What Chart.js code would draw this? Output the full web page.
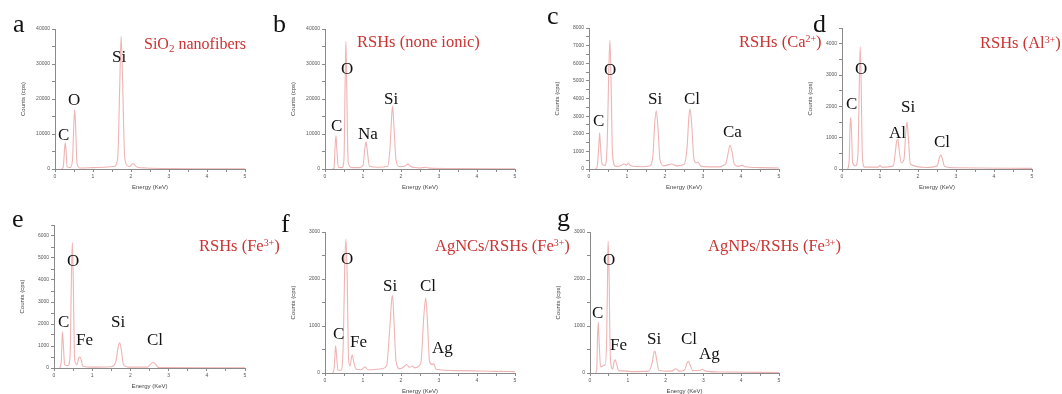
<!DOCTYPE html>
<html>
<head>
<meta charset="utf-8">
<script src="https://cdn.jsdelivr.net/npm/chart.js@4.4.0/dist/chart.umd.min.js"></script>
<style>
  html, body { margin: 0; padding: 0; background: #fff; }
  #stage { position: relative; width: 1062px; height: 394px; overflow: hidden; }
  canvas { position: absolute; }
  .lbl { position: absolute; white-space: nowrap; line-height: 1; font-family: "Liberation Serif", "Times New Roman", serif; }
  .lbl sup, .lbl sub { font-size: 0.6em; line-height: 0; }
  .lbl sup { vertical-align: 0.55em; }
  .lbl sub { vertical-align: -0.25em; font-size: 0.7em; }
</style>
</head>
<body>
<div id="stage"></div>
<script>
// spectra (energy in keV, counts in cps)
const energyA = [0.18, 0.22, 0.25, 0.27, 0.29, 0.32, 0.40, 0.46, 0.50, 0.52, 0.54, 0.58, 0.65, 1.0, 1.3, 1.55, 1.65, 1.70, 1.74, 1.78, 1.83, 1.90, 1.97, 2.03, 2.08, 2.15, 2.4, 3.0, 4.0, 5.0];
const countsA = [0, 800, 5500, 7500, 5500, 600, 400, 2500, 14000, 17000, 13000, 1500, 300, 400, 500, 700, 3000, 22000, 38000, 25000, 4000, 1000, 700, 1500, 1400, 600, 300, 150, 80, 50];

const energyB = [0.2, 0.24, 0.27, 0.29, 0.31, 0.35, 0.45, 0.50, 0.53, 0.55, 0.57, 0.61, 0.70, 0.9, 1.0, 1.05, 1.08, 1.11, 1.17, 1.4, 1.65, 1.71, 1.76, 1.78, 1.81, 1.87, 1.95, 2.1, 2.18, 2.26, 2.5, 2.65, 2.75, 3.5, 5.0];
const countsB = [0, 500, 7500, 9500, 6000, 500, 400, 3000, 25000, 36500, 25000, 2000, 400, 400, 1000, 6000, 7800, 5500, 800, 500, 800, 6000, 16000, 18000, 13000, 2500, 700, 800, 1400, 700, 300, 500, 250, 100, 50];

const energyC = [0.18, 0.22, 0.26, 0.28, 0.30, 0.34, 0.42, 0.48, 0.52, 0.55, 0.58, 0.62, 0.70, 0.85, 0.92, 0.98, 1.04, 1.10, 1.4, 1.6, 1.68, 1.73, 1.77, 1.81, 1.87, 1.97, 2.1, 2.18, 2.3, 2.5, 2.58, 2.63, 2.66, 2.70, 2.76, 2.82, 2.87, 2.95, 3.4, 3.6, 3.67, 3.71, 3.76, 3.83, 3.95, 4.03, 4.1, 4.5, 5.0];
const countsC = [0, 200, 1400, 2050, 1400, 300, 200, 1500, 5500, 7300, 5000, 800, 150, 200, 300, 220, 330, 180, 130, 180, 700, 2600, 3300, 2500, 500, 180, 250, 280, 180, 250, 1200, 3000, 3400, 2600, 600, 350, 380, 150, 120, 300, 1000, 1350, 1000, 250, 150, 220, 130, 80, 60];

const energyD = [0.15, 0.19, 0.21, 0.23, 0.25, 0.28, 0.36, 0.42, 0.46, 0.48, 0.50, 0.54, 0.60, 0.95, 1.0, 1.05, 1.35, 1.40, 1.44, 1.47, 1.50, 1.56, 1.63, 1.68, 1.71, 1.74, 1.80, 2.2, 2.50, 2.56, 2.60, 2.64, 2.70, 3.0, 5.0];
const countsD = [0, 300, 1300, 1650, 1200, 200, 100, 500, 3000, 3900, 3000, 300, 60, 60, 110, 60, 100, 500, 900, 950, 650, 200, 300, 1200, 1500, 1100, 150, 50, 100, 350, 450, 330, 80, 40, 20];

const energyE = [0.15, 0.19, 0.21, 0.22, 0.24, 0.28, 0.36, 0.42, 0.46, 0.48, 0.50, 0.54, 0.60, 0.65, 0.68, 0.71, 0.76, 1.0, 1.5, 1.62, 1.68, 1.72, 1.76, 1.82, 1.95, 2.45, 2.54, 2.60, 2.66, 2.72, 3.0, 5.0];
const countsE = [0, 300, 1300, 1650, 1200, 150, 100, 500, 4500, 5700, 4400, 400, 150, 450, 500, 380, 80, 40, 60, 300, 950, 1150, 850, 150, 40, 40, 200, 250, 180, 30, 20, 10];

const energyF = [0.2, 0.24, 0.27, 0.28, 0.30, 0.34, 0.42, 0.48, 0.52, 0.55, 0.58, 0.62, 0.66, 0.70, 0.72, 0.75, 0.82, 0.95, 1.05, 1.13, 1.5, 1.62, 1.70, 1.76, 1.78, 1.81, 1.87, 1.97, 2.10, 2.15, 2.22, 2.30, 2.36, 2.52, 2.60, 2.65, 2.69, 2.75, 2.82, 2.86, 2.92, 3.5, 4.5, 5.0];
const countsF = [0, 100, 500, 580, 420, 60, 60, 600, 2300, 2850, 2200, 300, 150, 350, 380, 260, 80, 70, 130, 70, 90, 150, 900, 1600, 1650, 1200, 250, 90, 150, 180, 120, 150, 110, 200, 1200, 1600, 1200, 250, 180, 200, 80, 50, 35, 30];

const energyG = [0.15, 0.18, 0.20, 0.22, 0.24, 0.28, 0.33, 0.36, 0.40, 0.44, 0.47, 0.48, 0.50, 0.54, 0.60, 0.64, 0.67, 0.70, 0.76, 1.0, 1.1, 1.55, 1.64, 1.70, 1.72, 1.76, 1.82, 2.15, 2.27, 2.35, 2.50, 2.56, 2.60, 2.64, 2.72, 2.92, 2.97, 3.05, 3.5, 5.0];
const countsG = [0, 100, 800, 1080, 700, 130, 140, 170, 160, 700, 2400, 2800, 2300, 300, 80, 250, 280, 200, 50, 40, 30, 40, 200, 450, 460, 300, 60, 40, 90, 40, 60, 200, 250, 190, 50, 60, 80, 40, 20, 10];

// axis ranges per panel
const yMaxes = { a: 40000, b: 40000, c: 8000, d: 4500, e: 6500, f: 3000, g: 3000 };
const yMinor = { a: 5000, b: 5000, c: 500, d: 500, e: 500, f: 500, g: 500 };
const yMajor = { a: 10000, b: 10000, c: 1000, d: 1000, e: 1000, f: 1000, g: 1000 };
const energyMax = 5;

// chart-area boxes [left, top, right, bottom] in page pixels
const panels = [
  { id: 'a', energy: energyA, counts: countsA, box: [55, 29, 245, 169] },
  { id: 'b', energy: energyB, counts: countsB, box: [325, 29, 515, 169] },
  { id: 'c', energy: energyC, counts: countsC, box: [589, 28, 779, 169] },
  { id: 'd', energy: energyD, counts: countsD, box: [842, 28, 1032, 169] },
  { id: 'e', energy: energyE, counts: countsE, box: [54, 225, 245, 368] },
  { id: 'f', energy: energyF, counts: countsF, box: [325, 232, 515, 373] },
  { id: 'g', energy: energyG, counts: countsG, box: [590, 232, 779, 373] },
];

// text: [html, left, baseline, size, colour]
const RED = '#cc3333';
const INK = '#111';
const texts = [
  ['a', 13, 33, 26, INK], ['b', 273, 33, 26, INK], ['c', 547, 25, 26, INK], ['d', 813, 33, 26, INK],
  ['e', 12, 228, 26, INK], ['f', 281, 233, 26, INK], ['g', 557, 227, 26, INK],
  ['SiO<sub>2</sub> nanofibers', 144, 49, 16, RED],
  ['RSHs (none ionic)', 357, 48, 16.5, RED],
  ['RSHs (Ca<sup>2+</sup>)', 739, 48, 16.5, RED],
  ['RSHs (Al<sup>3+</sup>)', 980, 49, 16.5, RED],
  ['RSHs (Fe<sup>3+</sup>)', 199, 252, 16.5, RED],
  ['AgNCs/RSHs (Fe<sup>3+</sup>)', 435, 252, 16.5, RED],
  ['AgNPs/RSHs (Fe<sup>3+</sup>)', 708, 252, 16.5, RED],
  ['C', 58, 140, 17, INK], ['O', 68, 105, 17, INK], ['Si', 112, 62, 17, INK],
  ['C', 331, 131, 17, INK], ['O', 341, 74, 17, INK], ['Na', 358, 139, 17, INK], ['Si', 384, 104, 17, INK],
  ['C', 593, 126, 17, INK], ['O', 604, 75, 17, INK], ['Si', 648, 104, 17, INK], ['Cl', 684, 104, 17, INK], ['Ca', 723, 137, 17, INK],
  ['C', 846, 109, 17, INK], ['O', 855, 74, 17, INK], ['Al', 889, 138, 17, INK], ['Si', 901, 112, 17, INK], ['Cl', 934, 147, 17, INK],
  ['C', 58, 327, 17, INK], ['O', 67, 266, 17, INK], ['Fe', 76, 345, 17, INK], ['Si', 111, 327, 17, INK], ['Cl', 147, 345, 17, INK],
  ['C', 333, 339, 17, INK], ['O', 341, 264, 17, INK], ['Fe', 350, 347, 17, INK], ['Si', 383, 291, 17, INK], ['Cl', 420, 291, 17, INK], ['Ag', 432, 353, 17, INK],
  ['C', 592, 318, 17, INK], ['O', 603, 265, 17, INK], ['Fe', 610, 350, 17, INK], ['Si', 647, 344, 17, INK], ['Cl', 681, 344, 17, INK], ['Ag', 699, 359, 17, INK],
];

const Y_AXIS_W = 38;
const X_AXIS_H = 24;
const PAD_TOP = 6;
const PAD_RIGHT = 8;
const AXIS_GREY = '#8a8a8a';

const stage = document.getElementById('stage');

function buildPanel(p) {
  const [l, t, r, b] = p.box;
  const canvas = document.createElement('canvas');
  canvas.width = r - l + Y_AXIS_W + PAD_RIGHT;
  canvas.height = b - t + PAD_TOP + X_AXIS_H;
  canvas.style.left = (l - Y_AXIS_W) + 'px';
  canvas.style.top = (t - PAD_TOP) + 'px';
  stage.appendChild(canvas);

  const points = p.energy.map((e, i) => ({ x: e, y: p.counts[i] }));
  const major = yMajor[p.id];

  new Chart(canvas, {
    type: 'line',
    data: {
      datasets: [{
        data: points,
        borderColor: '#efb4b4',
        borderWidth: 1.1,
        pointRadius: 0,
        cubicInterpolationMode: 'monotone',
      }],
    },
    options: {
      responsive: false,
      animation: false,
      events: [],
      layout: { padding: { top: PAD_TOP, right: PAD_RIGHT, left: 0, bottom: 0 } },
      plugins: { legend: { display: false }, tooltip: { enabled: false } },
      scales: {
        x: {
          type: 'linear',
          min: 0,
          max: energyMax,
          afterFit: (s) => { s.height = X_AXIS_H; },
          border: { color: AXIS_GREY, width: 1 },
          grid: { drawOnChartArea: false, tickLength: 3, color: AXIS_GREY },
          ticks: {
            stepSize: 0.5,
            autoSkip: false,
            maxRotation: 0,
            padding: 2,
            color: '#555',
            font: { family: 'Liberation Sans', size: 5 },
            callback: (v) => (Math.abs(v - Math.round(v)) < 1e-9 ? String(Math.round(v)) : ''),
          },
          title: {
            display: true,
            text: 'Energy (KeV)',
            color: '#444',
            padding: { top: 0, bottom: 2 },
            font: { family: 'Liberation Sans', size: 6 },
          },
        },
        y: {
          min: 0,
          max: yMaxes[p.id],
          afterFit: (s) => { s.width = Y_AXIS_W; },
          border: { color: AXIS_GREY, width: 1 },
          grid: { drawOnChartArea: false, tickLength: 3, color: AXIS_GREY },
          ticks: {
            stepSize: yMinor[p.id],
            autoSkip: false,
            padding: 2,
            color: '#555',
            font: { family: 'Liberation Sans', size: 5 },
            callback: (v) => (v % major === 0 ? String(v) : ''),
          },
          title: {
            display: true,
            text: 'Counts (cps)',
            color: '#444',
            padding: { top: 3, bottom: 0 },
            font: { family: 'Liberation Sans', size: 6 },
          },
        },
      },
    },
  });
}

panels.forEach(buildPanel);

// labels and panel letters as html text, placed by baseline
texts.forEach(([html, x, base, size, colour]) => {
  const d = document.createElement('div');
  d.className = 'lbl';
  d.innerHTML = html;
  d.style.left = x + 'px';
  d.style.top = (base - 0.8375 * size) + 'px';
  d.style.fontSize = size + 'px';
  d.style.color = colour;
  stage.appendChild(d);
});
</script>
</body>
</html>
